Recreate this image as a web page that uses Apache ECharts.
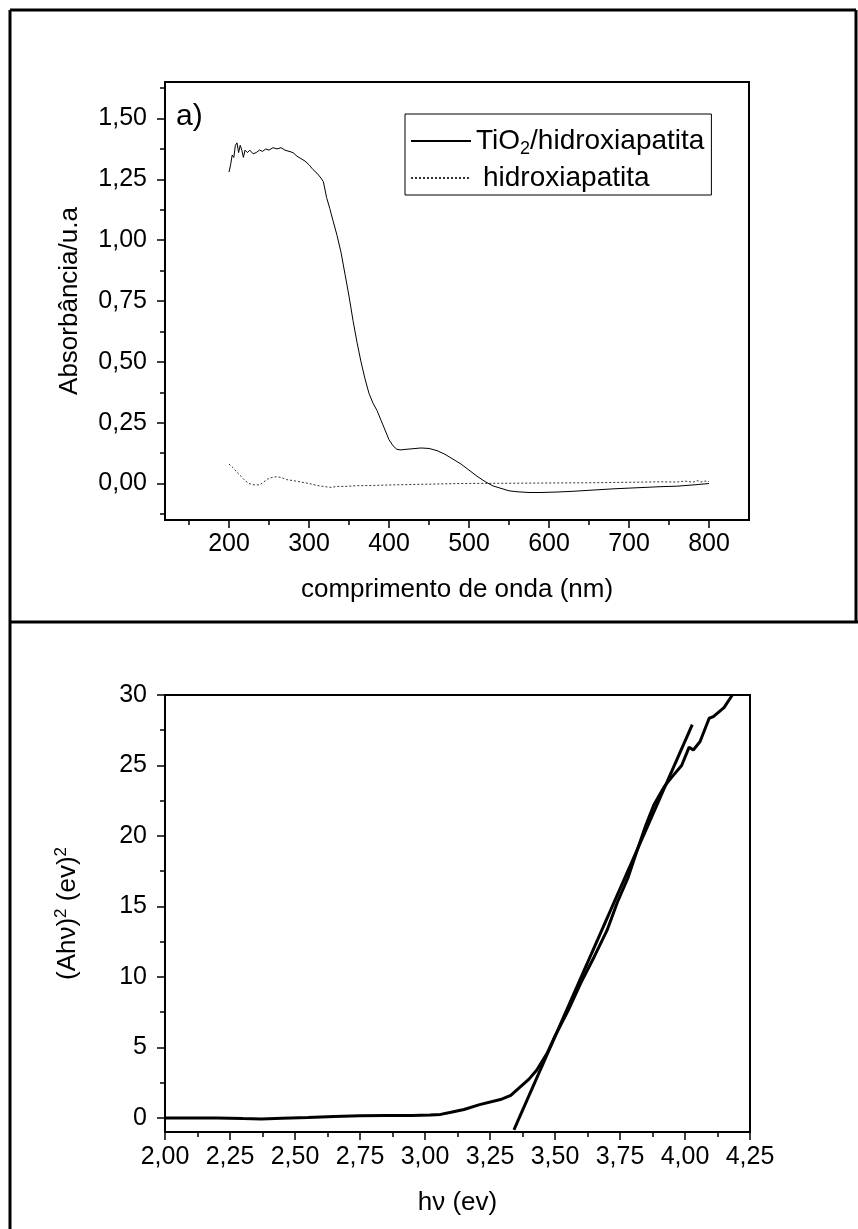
<!DOCTYPE html>
<html>
<head>
<meta charset="utf-8">
<script src="https://cdn.jsdelivr.net/npm/echarts@6/dist/echarts.min.js"></script>
<style>
html, body { margin: 0; padding: 0; background: #fff; }
#main { width: 858px; height: 1229px; }
</style>
</head>
<body>
<div id="main"></div>
<script>
// a) UV-Vis: TiO2/hidroxiapatita (linha cheia)
var nmTiO2 = [200, 202, 204, 206, 208, 210, 212, 214, 216, 218, 220, 223, 226, 230, 234, 238, 242, 246, 250, 255,
  260, 265, 270, 275, 280, 285, 290, 295, 300, 305, 310, 315, 318, 322, 326, 330, 335, 340, 345, 350,
  355, 360, 365, 370, 375, 380, 385, 390, 395, 400, 405, 410, 415, 420, 430, 440, 450, 460, 470, 480,
  490, 500, 510, 520, 530, 540, 550, 560, 575, 590, 610, 630, 655, 680, 700, 720, 740, 760, 780, 790, 800];
var absTiO2 = [1.28, 1.31, 1.35, 1.34, 1.39, 1.40, 1.36, 1.39, 1.37, 1.34, 1.37, 1.36, 1.37, 1.355, 1.36, 1.37, 1.365, 1.375, 1.37, 1.38,
  1.375, 1.38, 1.37, 1.365, 1.36, 1.345, 1.335, 1.325, 1.31, 1.29, 1.275, 1.255, 1.24, 1.175, 1.13, 1.08, 1.02, 0.95, 0.86, 0.77,
  0.67, 0.58, 0.50, 0.43, 0.37, 0.33, 0.30, 0.26, 0.22, 0.18, 0.155, 0.14, 0.138, 0.14, 0.143, 0.146, 0.144, 0.135, 0.12, 0.10,
  0.08, 0.055, 0.03, 0.008, -0.01, -0.02, -0.03, -0.034, -0.037, -0.037, -0.035, -0.032, -0.027, -0.022, -0.019, -0.016, -0.013, -0.011, -0.006, -0.003, 0.0];

// a) hidroxiapatita (pontilhada)
var nmHap = [200, 205, 210, 215, 220, 225, 230, 238, 243, 248, 254, 260, 266, 272, 280, 290, 300, 310, 320, 328,
  335, 345, 360, 380, 400, 430, 460, 490, 550, 600, 650, 700, 740, 760, 770, 780, 785, 790, 795, 800];
var absHap = [0.08, 0.065, 0.046, 0.03, 0.012, 0.0, -0.005, -0.006, 0.005, 0.018, 0.025, 0.028, 0.024, 0.016, 0.012, 0.006, 0.0, -0.008, -0.013, -0.016,
  -0.012, -0.012, -0.009, -0.008, -0.006, -0.004, -0.002, 0.0, 0.001, 0.002, 0.003, 0.005, 0.007, 0.006, 0.01, 0.005, 0.012, 0.006, 0.01, 0.008];

// b) Tauc: (Ahv)^2 vs hv
var hvTauc = [2.00, 2.10, 2.20, 2.30, 2.37, 2.45, 2.55, 2.65, 2.75, 2.85, 2.95, 3.02, 3.06, 3.10, 3.15, 3.21, 3.29, 3.33, 3.36, 3.40,
  3.43, 3.47, 3.50, 3.55, 3.60, 3.65, 3.70, 3.74, 3.78, 3.82, 3.85, 3.88, 3.92, 3.955, 3.987, 4.016, 4.032, 4.058, 4.093, 4.109, 4.15, 4.182];
var ahvTauc = [0.0, 0.0, 0.0, -0.05, -0.08, -0.02, 0.03, 0.1, 0.15, 0.17, 0.17, 0.2, 0.25, 0.4, 0.6, 0.94, 1.3, 1.6, 2.1, 2.75,
  3.4, 4.6, 5.8, 7.6, 9.6, 11.4, 13.3, 15.3, 17.0, 19.2, 20.8, 22.2, 23.5, 24.3, 25.0, 26.3, 26.1, 26.7, 28.35, 28.46, 29.1, 30.0];

// b) reta tangente
var hvTangente = [3.342, 4.028];
var ahvTangente = [-0.85, 27.9];

// ticks
var xMajorA = [200, 300, 400, 500, 600, 700, 800];
var xMinorA = [150, 250, 350, 450, 550, 650, 750];
var yMajorA = [0, 0.25, 0.5, 0.75, 1.0, 1.25, 1.5];
var yMinorA = [-0.125, 0.125, 0.375, 0.625, 0.875, 1.125, 1.375, 1.625];
var xMajorB = [2.0, 2.25, 2.5, 2.75, 3.0, 3.25, 3.5, 3.75, 4.0, 4.25];
var xMinorB = [2.125, 2.375, 2.625, 2.875, 3.125, 3.375, 3.625, 3.875, 4.125];
var yMajorB = [0, 5, 10, 15, 20, 25, 30];
var yMinorB = [2.5, 7.5, 12.5, 17.5, 22.5, 27.5];

var FONT = "'Liberation Sans', Arial, sans-serif";

function zip(xs, ys) {
  return xs.map(function (x, i) { return [x, ys[i]]; });
}
function comma(d) {
  return function (v) { return v.toFixed(d).replace('.', ','); };
}

// eixo com ticks maiores + rotulos
function majorAxis(grid, min, max, pos, ticks, fmt, margin) {
  return {
    type: 'value', gridIndex: grid, min: min, max: max, position: pos,
    axisLine: { show: true, onZero: false, lineStyle: { color: '#000', width: 2 } },
    axisTick: { show: true, inside: false, length: 8, customValues: ticks, lineStyle: { color: '#000', width: 1.5 } },
    axisLabel: { show: true, customValues: ticks, formatter: fmt, margin: margin, color: '#000', fontSize: 25, fontFamily: FONT },
    splitLine: { show: false }
  };
}
// eixo so com ticks menores
function minorAxis(grid, min, max, pos, ticks) {
  return {
    type: 'value', gridIndex: grid, min: min, max: max, position: pos,
    axisLine: { show: false, onZero: false },
    axisTick: { show: true, inside: false, length: 5, customValues: ticks, lineStyle: { color: '#000', width: 1.5 } },
    axisLabel: { show: false },
    splitLine: { show: false }
  };
}

var xA = majorAxis(0, 120, 850, 'bottom', xMajorA, comma(0), 12);
xA.name = 'comprimento de onda (nm)';
xA.nameLocation = 'middle';
xA.nameGap = 57;
xA.nameTextStyle = { color: '#000', fontSize: 26, fontFamily: FONT };

var yA = majorAxis(0, -0.15, 1.65, 'left', yMajorA, comma(2), 18);
yA.name = 'Absorbância/u.a';
yA.nameLocation = 'middle';
yA.nameGap = 82;
yA.nameTextStyle = { color: '#000', fontSize: 26, fontFamily: FONT };

var xB = majorAxis(1, 2.0, 4.25, 'bottom', xMajorB, comma(2), 13);
xB.name = 'hν (ev)';
xB.nameLocation = 'middle';
xB.nameGap = 58;
xB.nameTextStyle = { color: '#000', fontSize: 26, fontFamily: FONT };

var yB = majorAxis(1, -1, 30, 'left', yMajorB, comma(0), 18);
yB.name = '{n|(Ahν)}{p|2}{n| (ev)}{p|2}';
yB.nameLocation = 'middle';
yB.nameGap = 82;
yB.nameTextStyle = {
  color: '#000', fontSize: 26, fontFamily: FONT,
  rich: {
    n: { fontSize: 26, lineHeight: 30, fontFamily: FONT, color: '#000' },
    p: { fontSize: 17, lineHeight: 17, verticalAlign: 'top', fontFamily: FONT, color: '#000' }
  }
};

var chart = echarts.init(document.getElementById('main'));
var option = {
  backgroundColor: '#fff',
  animation: false,
  grid: [
    { left: 165, top: 82, width: 584, height: 438, show: true, borderColor: '#000', borderWidth: 2, backgroundColor: 'transparent' },
    { left: 165, top: 695, width: 585, height: 437, show: true, borderColor: '#000', borderWidth: 2, backgroundColor: 'transparent' }
  ],
  xAxis: [xA, minorAxis(0, 120, 850, 'bottom', xMinorA), xB, minorAxis(1, 2.0, 4.25, 'bottom', xMinorB)],
  yAxis: [yA, minorAxis(0, -0.15, 1.65, 'left', yMinorA), yB, minorAxis(1, -1, 30, 'left', yMinorB)],
  legend: {
    data: ['TiO2/hidroxiapatita', 'hidroxiapatita'],
    orient: 'vertical',
    left: 405, top: 114,
    borderColor: '#000', borderWidth: 1,
    padding: [13, 7, 3, 5],
    itemGap: 6, itemWidth: 60, itemHeight: 34,
    selectedMode: false,
    itemStyle: { opacity: 0 },
    formatter: function (name) {
      return name === 'TiO2/hidroxiapatita' ? '{n|TiO}{s|2}{n|/hidroxiapatita}' : '{m|hidroxiapatita}';
    },
    textStyle: {
      color: '#000', fontSize: 28, fontFamily: FONT,
      rich: {
        n: { fontSize: 28, lineHeight: 34, fontFamily: FONT, color: '#000' },
        m: { fontSize: 28, lineHeight: 34, fontFamily: FONT, color: '#000', padding: [0, 0, 0, 7] },
        s: { fontSize: 18, lineHeight: 18, verticalAlign: 'bottom', fontFamily: FONT, color: '#000' }
      }
    }
  },
  graphic: [
    { type: 'line', shape: { x1: 10, y1: 10, x2: 856, y2: 10 }, style: { stroke: '#000', lineWidth: 3 } },
    { type: 'line', shape: { x1: 10, y1: 10, x2: 10, y2: 1229 }, style: { stroke: '#000', lineWidth: 3 } },
    { type: 'line', shape: { x1: 856, y1: 10, x2: 856, y2: 622 }, style: { stroke: '#000', lineWidth: 3 } },
    { type: 'line', shape: { x1: 10, y1: 622, x2: 858, y2: 622 }, style: { stroke: '#000', lineWidth: 3 } },
    { type: 'text', x: 176, y: 117, style: { text: 'a)', fontSize: 30, fontFamily: FONT, fill: '#000', verticalAlign: 'middle' } }
  ],
  series: [
    {
      name: 'TiO2/hidroxiapatita', type: 'line', xAxisIndex: 0, yAxisIndex: 0,
      data: zip(nmTiO2, absTiO2), symbol: 'none', color: '#000',
      lineStyle: { color: '#000', width: 1 }
    },
    {
      name: 'hidroxiapatita', type: 'line', xAxisIndex: 0, yAxisIndex: 0,
      data: zip(nmHap, absHap), symbol: 'none', color: '#333',
      lineStyle: { color: '#333', width: 1, type: [2, 2] }
    },
    {
      name: 'Tauc', type: 'line', xAxisIndex: 2, yAxisIndex: 2,
      data: zip(hvTauc, ahvTauc), symbol: 'none', color: '#000',
      lineStyle: { color: '#000', width: 3 }
    },
    {
      name: 'tangente', type: 'line', xAxisIndex: 2, yAxisIndex: 2,
      data: zip(hvTangente, ahvTangente), symbol: 'none', color: '#000',
      lineStyle: { color: '#000', width: 3 }
    }
  ]
};
chart.setOption(option);
</script>
</body>
</html>
